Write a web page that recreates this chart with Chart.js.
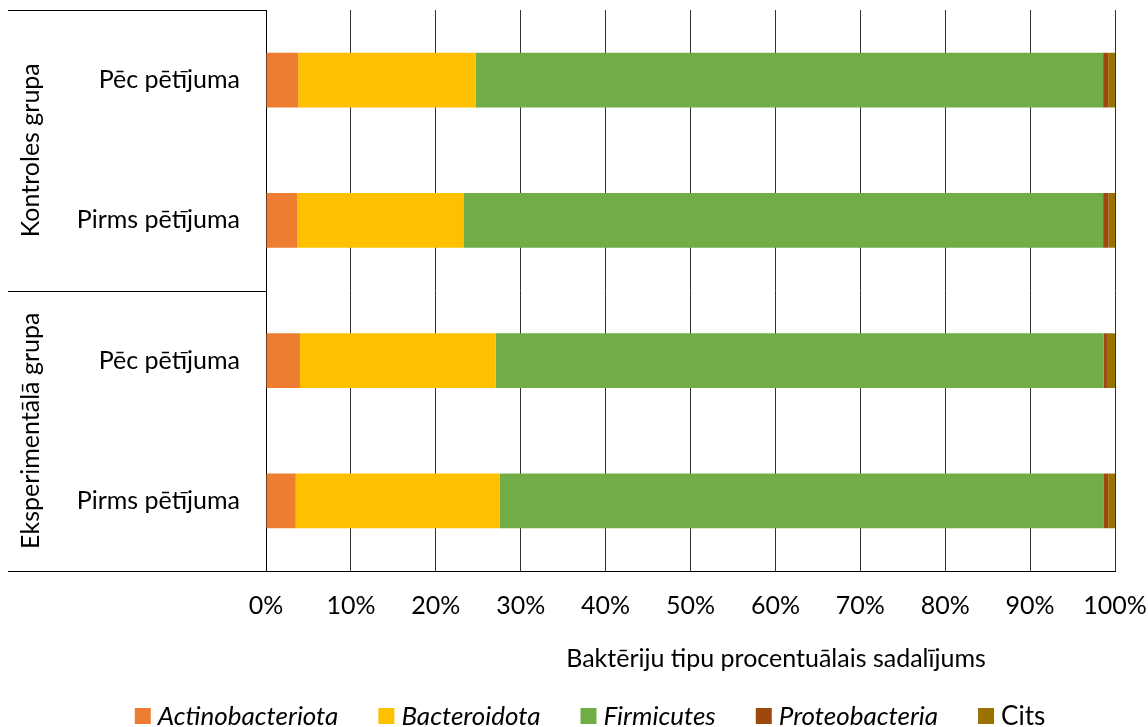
<!DOCTYPE html>
<html>
<head>
<meta charset="utf-8">
<script src="https://cdn.jsdelivr.net/npm/chart.js@4.4.1/dist/chart.umd.min.js"></script>
<style>
html,body{margin:0;padding:0;background:#fff;}
#wrap{width:1148px;height:727px;position:relative;}
</style>
</head>
<body>
<div id="wrap"><canvas id="c" width="1148" height="727"></canvas></div>
<script>
// Categories (top to bottom) and their groups
const categories = ["Pēc pētījuma", "Pirms pētījuma", "Pēc pētījuma", "Pirms pētījuma"];
const groups = ["Kontroles grupa", "Eksperimentālā grupa"];
const groupSizes = [2, 2];

// Series values (%)
const actinobacteriota = [3.8, 3.65, 4.0, 3.5];
const bacteroidota     = [20.9, 19.6, 23.05, 24.05];
const firmicutes       = [73.9, 75.35, 71.6, 71.15];
const proteobacteria   = [0.6, 0.65, 0.4, 0.5];
const cits             = [0.8, 0.75, 0.95, 0.8];

const seriesNames = ["Actinobacteriota", "Bacteroidota", "Firmicutes", "Proteobacteria", "Cits"];
const seriesItalic = [true, true, true, true, false];
const seriesColors = ["#ED7D31", "#FFC000", "#70AD47", "#9E480E", "#997300"];

const xTicks = [0,10,20,30,40,50,60,70,80,90,100];
const xTitle = "Baktēriju tipu procentuālais sadalījums";

const FONT = "Lato, 'Open Sans', sans-serif";
const FS = 25;
const LFS = 26;
const seriesData = [actinobacteriota, bacteroidota, firmicutes, proteobacteria, cits];

const datasets = seriesNames.map((n, i) => ({
  label: n,
  data: seriesData[i],
  backgroundColor: seriesColors[i],
  borderWidth: 0,
  barPercentage: 0.39,
  categoryPercentage: 1.0
}));

const decor = {
  id: 'decor',
  afterDraw(chart) {
    const ctx = chart.ctx;
    const ca = chart.chartArea;
    const y = chart.scales.y;
    const leftEdge = 8;
    ctx.save();
    ctx.strokeStyle = '#000';
    ctx.lineWidth = 1;
    // group boundaries
    let bounds = [ca.top];
    let idx = 0;
    groupSizes.forEach((s) => {
      idx += s;
      if (idx < categories.length) {
        bounds.push((y.getPixelForValue(idx - 1) + y.getPixelForValue(idx)) / 2);
      } else {
        bounds.push(ca.bottom);
      }
    });
    bounds.forEach(b => {
      const yy = Math.round(b) + 0.5;
      ctx.beginPath();
      ctx.moveTo(leftEdge, yy);
      ctx.lineTo(ca.left, yy);
      ctx.stroke();
    });
    // group labels
    ctx.fillStyle = '#000';
    ctx.font = FS + "px " + FONT;
    ctx.textAlign = 'center';
    ctx.textBaseline = 'middle';
    groups.forEach((g, i) => {
      const cy = (bounds[i] + bounds[i + 1]) / 2;
      ctx.save();
      ctx.translate(31, cy);
      ctx.rotate(-Math.PI / 2);
      ctx.fillText(g, 0, 0);
      ctx.restore();
    });
    // x title
    ctx.fillText(xTitle, 776, 659);
    // legend
    const box = 16, gapText = 7, gapItem = 40;
    const widths = seriesNames.map((n, i) => {
      ctx.font = (seriesItalic[i] ? "italic " : "") + LFS + "px " + FONT;
      return ctx.measureText(n).width;
    });
    let total = 0;
    widths.forEach((w, i) => { total += box + gapText + w + (i < widths.length - 1 ? gapItem : 0); });
    let lx = 590 - total / 2;
    const ly = 716;
    ctx.textAlign = 'left';
    seriesNames.forEach((n, i) => {
      ctx.fillStyle = seriesColors[i];
      ctx.fillRect(lx, ly - 8, box, box);
      ctx.fillStyle = '#000';
      ctx.font = (seriesItalic[i] ? "italic " : "") + LFS + "px " + FONT;
      ctx.fillText(n, lx + box + gapText, ly + 1);
      lx += box + gapText + widths[i] + gapItem;
    });
    ctx.restore();
  }
};

new Chart(document.getElementById('c'), {
  type: 'bar',
  data: { labels: categories, datasets },
  options: {
    indexAxis: 'y',
    responsive: false,
    animation: false,
    layout: { padding: { left: 0, right: 33, top: 10, bottom: 0 } },
    plugins: { legend: { display: false }, tooltip: { enabled: false } },
    scales: {
      x: {
        stacked: true,
        min: 0, max: 100,
        afterBuildTicks: (s) => { s.ticks = xTicks.map(v => ({ value: v })); },
        afterFit: (s) => { s.height = 156; s.paddingLeft = 0; s.paddingRight = 0; },
        ticks: {
          callback: (v) => v + '%',
          font: { size: FS, family: FONT },
          color: '#000',
          padding: 20,
          maxRotation: 0
        },
        grid: { color: '#333333', lineWidth: 1, drawTicks: false },
        border: { display: true, color: '#000', width: 1 }
      },
      y: {
        stacked: true,
        afterFit: (s) => { s.width = 266; s.paddingTop = 0; s.paddingBottom = 0; },
        ticks: {
          font: { size: FS, family: FONT },
          color: '#000',
          padding: 26
        },
        grid: { display: false, drawTicks: false },
        border: { display: true, color: '#000', width: 1 }
      }
    }
  },
  plugins: [decor]
});
</script>
</body>
</html>
